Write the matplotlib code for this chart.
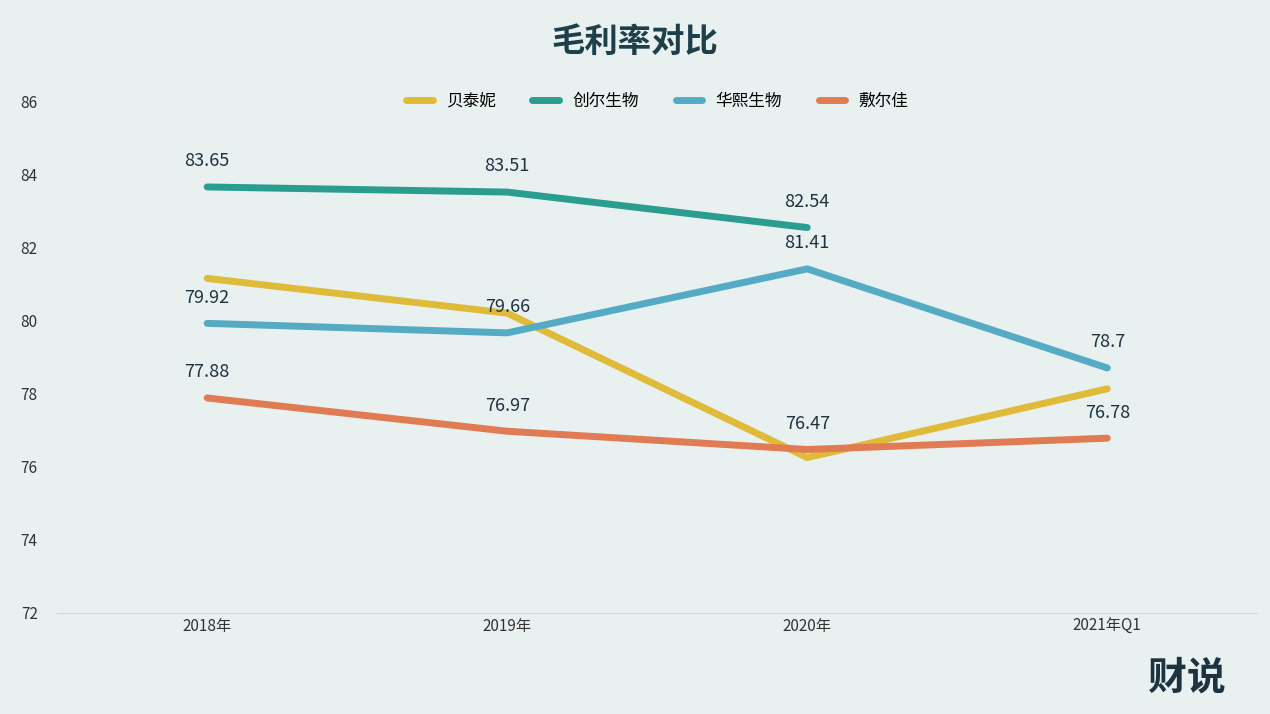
import matplotlib.pyplot as plt

plt.rcParams['font.family'] = ['Noto Sans CJK SC', 'DejaVu Sans']

categories = ['2018年', '2019年', '2020年', '2021年Q1']
series_names = ['贝泰妮', '创尔生物', '华熙生物', '敷尔佳']
beitaini = [81.15, 80.2, 76.25, 78.13]
chuanger = [83.65, 83.51, 82.54]
huaxi = [79.92, 79.66, 81.41, 78.7]
fuerjia = [77.88, 76.97, 76.47, 76.78]
colors = ['#e0bb3a', '#2a9d8f', '#56abc4', '#e07b53']

bg = '#e8f0f0'
fig = plt.figure(figsize=(12.7, 7.14), dpi=100, facecolor=bg)
ax = fig.add_axes([0.045, 0.1415, 0.945, 0.717], facecolor=bg)

x = list(range(len(categories)))
data = [beitaini, chuanger, huaxi, fuerjia]
labelled = [False, True, True, True]
for name, vals, c, lab in zip(series_names, data, colors, labelled):
    xs = x[:len(vals)]
    ax.plot(xs, vals, color=c, lw=5, solid_capstyle='round', label=name)
    if lab:
        for xi, v in zip(xs, vals):
            ax.annotate(f'{v:g}', (xi, v), xytext=(0, 12), textcoords='offset points',
                        ha='center', va='bottom', fontsize=13, fontweight='medium',
                        color='#1d3340')

ax.set_xlim(-0.5, 3.5)
ax.set_ylim(72, 86)
ax.set_yticks(range(72, 87, 2))
ax.set_xticks(x)
ax.set_xticklabels(categories)
ax.tick_params(length=0, labelsize=11, colors='#333333')
ax.tick_params(axis='y', pad=14)
for s in ['top', 'right', 'left']:
    ax.spines[s].set_visible(False)
ax.spines['bottom'].set_color('#d0d8d8')

ax.legend(loc='upper center', bbox_to_anchor=(0.5, 1.045), ncol=4, frameon=False,
          fontsize=12, handlelength=1.6, columnspacing=2.2)
fig.text(0.5, 0.94, '毛利率对比', ha='center', va='center', fontsize=24,
         fontweight='bold', color='#1d3f4a')
fig.text(0.965, 0.05, '财说', ha='right', va='center', fontsize=28,
         fontweight='bold', color='#1d3340')

fig.savefig('out.png', dpi=100, facecolor=bg)
